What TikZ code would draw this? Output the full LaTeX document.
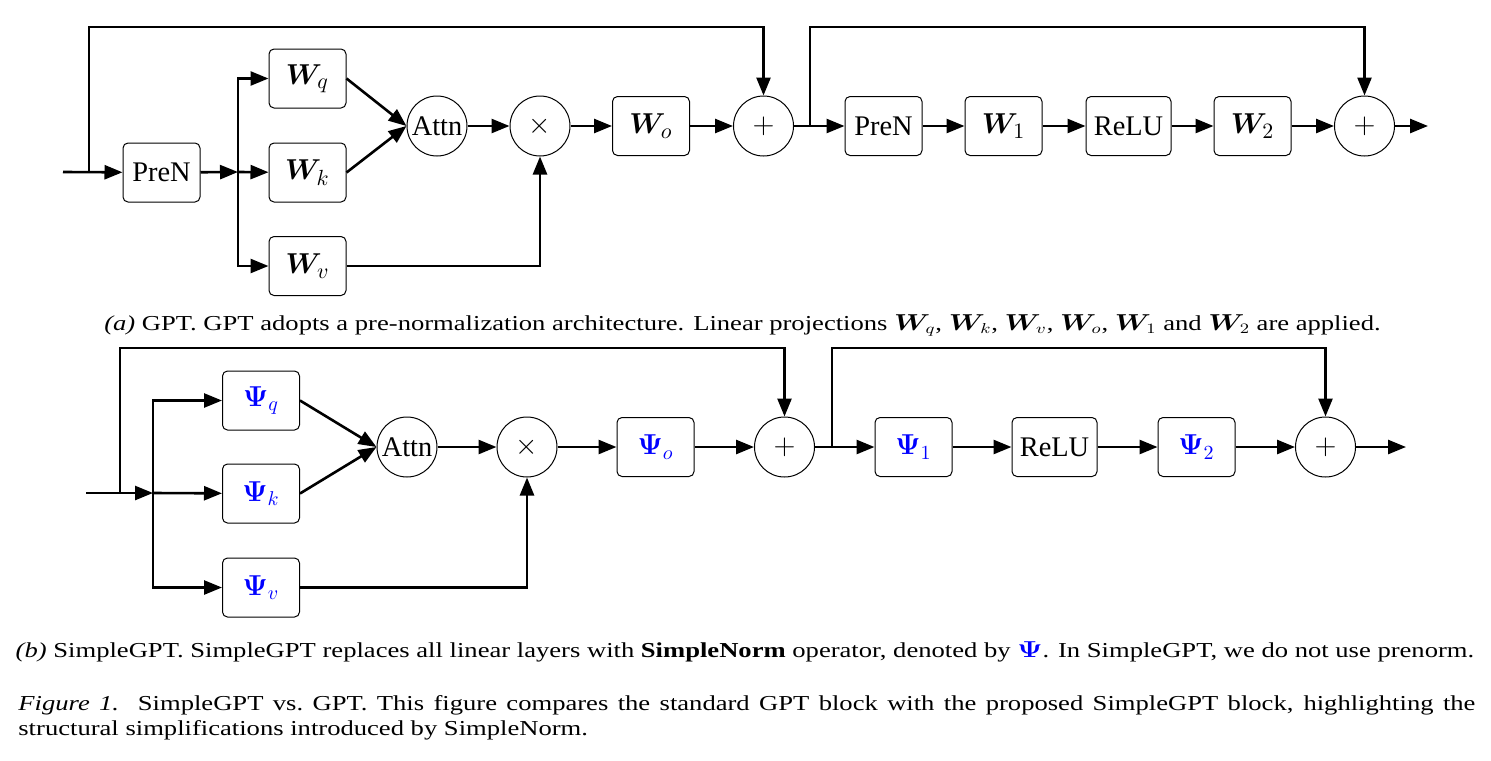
\documentclass[tikz,border=0pt]{standalone}
\usepackage[no-math]{fontspec}
\setmainfont{Liberation Serif}
\usepackage{amsmath}
\usepackage{bm}
\usepackage{xcolor}
\usepackage{tikz}
\usetikzlibrary{arrows.meta,calc}
\newcommand{\Wm}[1]{{\fontsize{15.5}{17}\selectfont$\bm{W}_{#1}$}}
\newcommand{\Pm}[1]{\textcolor{blue}{$\bm{\Psi}_{#1}$}}
\tikzset{
  box/.style={draw,rounded corners=2.5pt,align=center,inner sep=2pt,line width=0.5pt,
              minimum width=38.5pt,minimum height=29.5pt,font=\fontsize{14.2}{16}\selectfont},
  op/.style={draw,circle,inner sep=0pt,minimum size=30pt,line width=0.5pt,
             font=\fontsize{14.2}{16}\selectfont},
  fl/.style={-{Triangle[length=9pt,width=7pt]},line width=1.3pt},
  capt/.style={inner sep=0pt,yscale=0.8,font=\fontsize{13.3}{16}\selectfont},
}

\begin{document}
\begin{tikzpicture}[x=0.5pt,y=-0.5pt]
\useasboundingbox (0,0) rectangle (1491,760);
% (a) GPT
\coordinate (ina) at (63,172);
\coordinate (ska) at (89,172);
\coordinate (topa) at (89,27);
\node[box] (prea) at (161.5,172.5) {PreN};
\coordinate (bra) at (238,172);
\node[box] (wq) at (307.5,78.5) {\Wm{q}};
\node[box] (wk) at (307.5,172.5) {\Wm{k}};
\node[box] (wv) at (307.5,266) {\Wm{v}};
\node[op] (attna) at (437,126) {Attn};
\node[op] (mula) at (540,126) {$\times$};
\node[box] (wo) at (651,126) {\Wm{o}};
\node[op] (adda) at (763.5,126) {$+$};
\coordinate (skb) at (810,126);
\coordinate (topb) at (810,27);
\node[box] (preb) at (883.5,126) {PreN};
\node[box] (w1) at (1003.5,126) {\Wm{1}};
\node[box,minimum width=42.5pt] (relua) at (1128.5,126) {ReLU};
\node[box] (w2) at (1252.5,126) {\Wm{2}};
\node[op] (addb) at (1364.5,126) {$+$};
\coordinate (outa) at (1428,126);
\draw[fl] (ina) -- (prea);
\draw[fl] (ska) -- (topa) -| (adda.north);
\draw[fl] (prea) -- (bra);
\draw[fl] (bra) |- (wq.west);
\draw[fl] (bra) -- (wk);
\draw[fl] (bra) |- (wv.west);
\draw[fl] (wq.east) -- (attna.west);
\draw[fl] (wk.east) -- (attna.west);
\draw[fl] (attna) -- (mula);
\draw[fl] (wv) -| (mula.south);
\draw[fl] (mula) -- (wo);
\draw[fl] (wo) -- (adda);
\draw[fl] (adda) -- (preb);
\draw[fl] (skb) -- (topb) -| (addb.north);
\draw[fl] (preb) -- (w1);
\draw[fl] (w1) -- (relua);
\draw[fl] (relua) -- (w2);
\draw[fl] (w2) -- (addb);
\draw[fl] (addb) -- (outa);
\node[capt,anchor=base] (capa) at (742.5,330) {\textit{(a)} GPT. GPT adopts a pre-normalization architecture. Linear projections $\bm{W}_q$, $\bm{W}_k$, $\bm{W}_v$, $\bm{W}_o$, $\bm{W}_1$ and $\bm{W}_2$ are applied.};

% (b) SimpleGPT
\coordinate (inb) at (86,493);
\coordinate (skc) at (120,493);
\coordinate (topc) at (120,348);
\coordinate (brb) at (153,493);
\node[box] (psq) at (261,400.5) {\Pm{q}};
\node[box] (psk) at (261,493.5) {\Pm{k}};
\node[box] (psv) at (261,587.5) {\Pm{v}};
\node[op] (attnb) at (407,447) {Attn};
\node[op] (mulb) at (527,447) {$\times$};
\node[box] (pso) at (655.5,447) {\Pm{o}};
\node[op] (addc) at (784.5,447) {$+$};
\coordinate (skd) at (832,447);
\coordinate (topd) at (832,348);
\node[box] (ps1) at (913.5,447) {\Pm{1}};
\node[box,minimum width=42.5pt] (relub) at (1054.5,447) {ReLU};
\node[box] (ps2) at (1196.5,447) {\Pm{2}};
\node[op] (addd) at (1325.5,447) {$+$};
\coordinate (outb) at (1406,447);
\draw[fl] (inb) -- (brb);
\draw[fl] (skc) -- (topc) -| (addc.north);
\draw[fl] (brb) |- (psq.west);
\draw[fl] (brb) -- (psk);
\draw[fl] (brb) |- (psv.west);
\draw[fl] (psq.east) -- (attnb.west);
\draw[fl] (psk.east) -- (attnb.west);
\draw[fl] (attnb) -- (mulb);
\draw[fl] (psv) -| (mulb.south);
\draw[fl] (mulb) -- (pso);
\draw[fl] (pso) -- (addc);
\draw[fl] (addc) -- (ps1);
\draw[fl] (skd) -- (topd) -| (addd.north);
\draw[fl] (ps1) -- (relub);
\draw[fl] (relub) -- (ps2);
\draw[fl] (ps2) -- (addd);
\draw[fl] (addd) -- (outb);
\node[capt,anchor=base] (capb) at (745,657) {\textit{(b)} SimpleGPT. SimpleGPT replaces all linear layers with \textbf{SimpleNorm} operator, denoted by \textcolor{blue}{$\bm{\Psi}$}. In SimpleGPT, we do not use prenorm.};

% figure caption
\node[capt,anchor=north west,text width=728.5pt,align=justify] (figcap) at (18,695) {\textit{Figure 1.}\ \ SimpleGPT vs.\ GPT. This figure compares the standard GPT block with the proposed SimpleGPT block, highlighting the structural simplifications introduced by SimpleNorm.};
\end{tikzpicture}
\end{document}
